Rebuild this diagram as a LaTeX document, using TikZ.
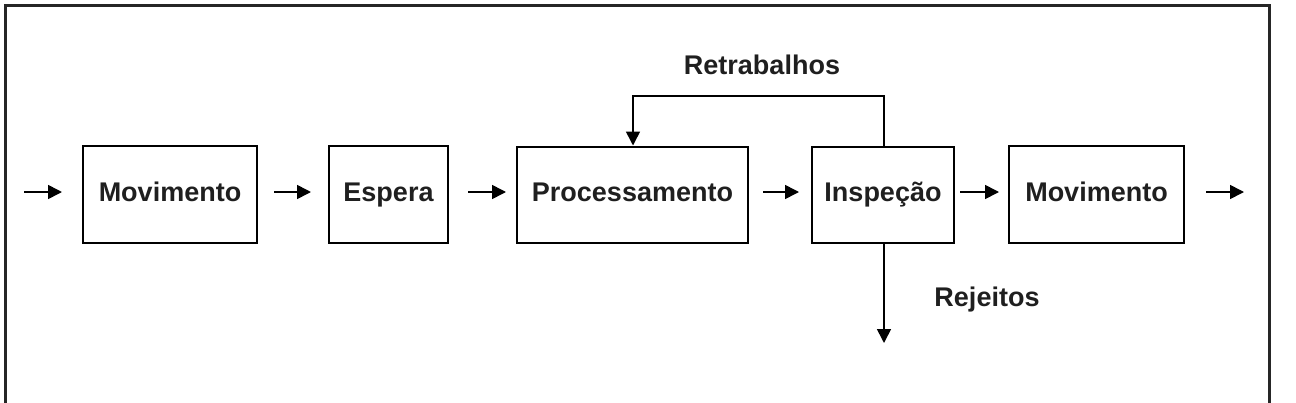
\documentclass[tikz,border=0pt]{standalone}
\usepackage{fontspec}
\setmainfont{Liberation Sans}
\usetikzlibrary{arrows.meta}
\begin{document}
\begin{tikzpicture}[x=1pt,y=-1pt,
  stage/.style={draw=black,line width=2pt,inner sep=0pt,text height=20pt,text depth=6pt,font=\bfseries\fontsize{27}{30}\selectfont,text=black!88},
  lbl/.style={inner sep=0pt,font=\bfseries\fontsize{27}{30}\selectfont,text=black!88},
  arr/.style={line width=1.6pt,-{Triangle[length=14pt,width=14pt]}}]
\useasboundingbox (0,0) rectangle (1296,402);
\draw[line width=3pt,black!85] (5,420) -- (5,5) -- (1269,5) -- (1269,420);
\node[stage,minimum width=174pt,minimum height=97pt] (m1) at (170,194.5) {Movimento};
\node[stage,minimum width=119pt,minimum height=97pt] (esp) at (388.5,194.5) {Espera};
\node[stage,minimum width=231pt,minimum height=96pt] (proc) at (632.5,194.5) {Processamento};
\node[stage,minimum width=142pt,minimum height=96pt] (insp) at (883,194.5) {Inspeção};
\node[stage,minimum width=175pt,minimum height=97pt] (m2) at (1096.5,194.5) {Movimento};
\coordinate (in) at (24,192);
\coordinate (out) at (1244,192);
\coordinate (rej) at (884,343);
\coordinate (tr) at (884,96);
\coordinate (tl) at (633,96);
\node[lbl] (retr) at (762,65) {Retrabalhos};
\node[lbl] (rejl) at (987,300) {Rejeitos};
\draw[arr,shorten >=20pt] (in) -- (m1.west |- in);
\draw[arr,shorten <=16pt,shorten >=17pt] (m1.east |- in) -- (esp.west |- in);
\draw[arr,shorten <=19pt,shorten >=10pt] (esp.east |- in) -- (proc.west |- in);
\draw[arr,shorten <=14pt,shorten >=12pt] (proc.east |- in) -- (insp.west |- in);
\draw[arr,shorten <=5pt,shorten >=9pt] (insp.east |- in) -- (m2.west |- in);
\draw[arr,shorten <=21pt] (m2.east |- in) -- (out);
\draw[arr] (insp.north -| tr) -- (tr) -- (tl) -- (proc.north -| tl);
\draw[arr] (insp.south -| rej) -- (rej);
\end{tikzpicture}
\end{document}
